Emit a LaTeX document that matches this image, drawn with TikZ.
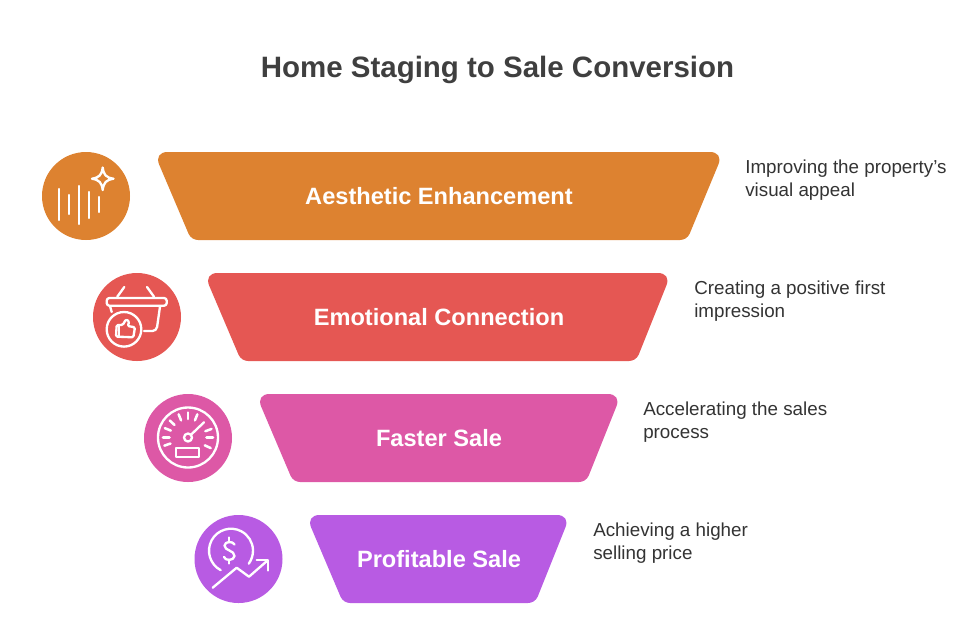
\documentclass[tikz,border=0pt]{standalone}
\usepackage{fontspec}
\setmainfont{Liberation Sans}
\definecolor{barorange}{HTML}{DD8230}
\definecolor{barred}{HTML}{E55753}
\definecolor{barpink}{HTML}{DD58A6}
\definecolor{barpurple}{HTML}{B85BE3}
\definecolor{titlegrey}{HTML}{3F3F3F}
\definecolor{notegrey}{HTML}{333333}
\tikzset{
    barlabel/.style={white,font=\bfseries\fontsize{17.7}{20}\selectfont},
    iconbadge/.style={circle,minimum size=66pt,inner sep=0pt},
    noteline/.style={anchor=west,align=left,inner sep=0pt,text=notegrey,font=\fontsize{14.1}{17.3}\selectfont},
    iconline/.style={white,line width=1.75pt,line cap=round,line join=round}
}
\begin{document}
\begin{tikzpicture}[x=0.75pt,y=-0.75pt]
            \useasboundingbox (0,0) rectangle (980,637);

            % Title
            \node[text=titlegrey,font=\bfseries\fontsize{22.1}{27}\selectfont] (title) at (497.5,70) {Home Staging to Sale Conversion};

            % Funnel Bars
            \foreach \barcolor/\xtl/\xtr/\xbr/\xbl/\ytop in {barorange/153.8/723.7/687/191.2/152,barred/203.8/671.7/636/241.2/273,barpink/255.8/621.7/586/293.2/394,barpurple/305.8/570.7/535/343.2/515}
                \fill[\barcolor] ({\xtl+14},\ytop) -- ({\xtr-14},\ytop)
                    .. controls ({\xtr-5.6},\ytop) and ({\xtr-2.2},{\ytop+5.2}) .. ({\xtr-5.5},{\ytop+12.9})
                    -- ({\xbr+2.7},{\ytop+81.6})
                    .. controls ({\xbr+1.1},{\ytop+85.4}) and ({\xbr-2.8},{\ytop+88}) .. ({\xbr-7},{\ytop+88})
                    -- ({\xbl+7},{\ytop+88})
                    .. controls ({\xbl+2.8},{\ytop+88}) and ({\xbl-1.1},{\ytop+85.4}) .. ({\xbl-2.7},{\ytop+81.6})
                    -- ({\xtl+5.5},{\ytop+12.9})
                    .. controls ({\xtl+2.2},{\ytop+5.2}) and ({\xtl+5.6},\ytop) .. cycle;

            % Labels on the Bars
            \node[barlabel] (aesthetic) at (439,196) {Aesthetic Enhancement};
            \node[barlabel] (emotional) at (439,317) {Emotional Connection};
            \node[barlabel] (faster) at (439,438) {Faster Sale};
            \node[barlabel] (profitable) at (439,559) {Profitable Sale};

            % Notes at the Right
            \node[noteline] (aestheticnote) at (745,180.5) {Improving the property's\\visual appeal};
            \node[noteline] (emotionalnote) at (694,301.5) {Creating a positive first\\impression};
            \node[noteline] (fasternote) at (643,422.5) {Accelerating the sales\\process};
            \node[noteline] (profitablenote) at (593,543.5) {Achieving a higher\\selling price};

            % Icon Badges
            \node[iconbadge,fill=barorange] (sparkle) at (86,196) {};
            \node[iconbadge,fill=barred] (basket) at (137,317) {};
            \node[iconbadge,fill=barpink] (gauge) at (188,438) {};
            \node[iconbadge,fill=barpurple] (coin) at (238.5,559) {};

            % Sparkle Icon
            \draw[iconline] (58.7,189) -- (58.7,220);
            \draw[iconline] (69.3,195) -- (69.3,214);
            \draw[iconline] (79.3,186) -- (79.3,224);
            \draw[iconline] (89.3,192) -- (89.3,218);
            \draw[iconline] (99.3,197) -- (99.3,212);
            \draw[iconline] (102.7,167.5) .. controls (103.7,175) and (106,177.5) .. (113.5,178.7)
                .. controls (106,180) and (103.7,182.5) .. (102.7,190)
                .. controls (101.7,182.5) and (99.4,180) .. (92,178.7)
                .. controls (99.4,177.5) and (101.7,175) .. cycle;

            % Basket Icon
            \draw[iconline,rounded corners=2pt] (106.7,298) rectangle (166.7,305.7);
            \draw[iconline] (117.3,296.7) -- (124.3,287);
            \draw[iconline] (154,296.7) -- (147,287);
            \draw[iconline,rounded corners=3pt] (160,306.7) -- (156.5,331) -- (144,331);
            \draw[iconline] (110,306) -- (111.7,312);
            \draw[iconline] (124,329.3) circle[radius=17.3];
            \draw[iconline,rounded corners=1pt] (116,336.6) -- (116.7,325) -- (122.7,325) -- (126,319.3) -- (129.3,321.6) -- (127.7,326) -- (135,327.3) -- (133.3,337.3) -- cycle;
            \draw[iconline] (119.3,325) -- (119.3,337);

            % Gauge Icon
            \draw[iconline] (188,437.5) circle[radius=30];
            \foreach \tickangle in {199,180,158,137,112,90,68,-25,0,20}
                \draw[iconline,line width=1.9pt] (188,437.5) ++(-\tickangle:18.5) -- ++(-\tickangle:6.5);
            \draw[iconline] (188,437.5) circle[radius=4];
            \draw[iconline] (191,434.7) -- (204,422.3);
            \draw[iconline] (175.7,448.3) rectangle (199,457.3);

            % Coin Icon
            \draw[iconline] (231,550.7) ++(118:22) arc[start angle=118,end angle=396,radius=22];
            \draw[iconline] (234.5,544.5) .. controls (233,541) and (225,541) .. (224.5,545.5)
                .. controls (224.5,551) and (234.5,550) .. (234.5,556)
                .. controls (234,561) and (225,561) .. (224,557);
            \draw[iconline] (229.3,537.5) -- (229.3,541.5);
            \draw[iconline] (229.3,560) -- (229.3,563.5);
            \draw[iconline] (212.7,587.7) -- (236.7,567.7) -- (249,576.7) -- (267.3,560.7);
            \draw[iconline] (256.7,560) -- (268.3,560) -- (268.3,570.5);
        \end{tikzpicture}
\end{document}
